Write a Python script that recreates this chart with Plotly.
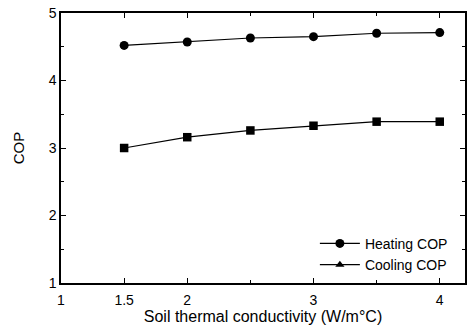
import plotly.graph_objects as go

conductivity = [1.5, 2.0, 2.5, 3.0, 3.5, 4.0]
heating_cop = [4.52, 4.57, 4.63, 4.65, 4.70, 4.71]
cooling_cop = [3.00, 3.16, 3.26, 3.33, 3.39, 3.39]
x_tick_vals = [1, 1.5, 2, 3, 4]
x_tick_text = ["1", "1.5", "2", "3", "4"]
y_tick_vals = [1, 2, 3, 4, 5]

FONT = "Liberation Sans, Arial, sans-serif"

fig = go.Figure()
fig.add_trace(go.Scatter(
    x=conductivity, y=heating_cop, mode="lines+markers", name="Heating COP",
    line=dict(color="black", width=1.2),
    marker=dict(symbol="circle", size=9, color="black"),
))
fig.add_trace(go.Scatter(
    x=conductivity, y=cooling_cop, mode="lines+markers", name="Cooling COP",
    line=dict(color="black", width=1.2),
    marker=dict(symbol="square", size=8.5, color="black"),
    showlegend=False,
))
# legend entry as printed in the original (triangle symbol)
fig.add_trace(go.Scatter(
    x=[None], y=[None], mode="lines+markers", name="Cooling COP",
    line=dict(color="black", width=1.2),
    marker=dict(symbol="triangle-up", size=8, color="black"),
))

fig.update_layout(
    width=470, height=330,
    margin=dict(l=61, r=3, t=13, b=47),
    paper_bgcolor="white", plot_bgcolor="white",
    font=dict(family=FONT, size=14, color="black"),
    showlegend=True,
    legend=dict(x=0.97, y=0.008, xanchor="right", yanchor="bottom",
                bgcolor="rgba(0,0,0,0)", font=dict(size=14, family=FONT),
                itemwidth=40, tracegroupgap=0),
)
fig.update_xaxes(
    range=[1, 4.2], tickmode="array", tickvals=x_tick_vals, ticktext=x_tick_text,
    ticks="inside", ticklen=5, tickwidth=1.2, tickcolor="black",
    showline=True, linecolor="black", linewidth=1.5, mirror="ticks",
    showgrid=False, zeroline=False, ticklabelstandoff=3,
    minor=dict(tickmode="array", tickvals=[2.5, 3.5], ticks="inside", ticklen=3, tickcolor="black"),
    title=dict(text="Soil thermal conductivity (W/m°C)", font=dict(size=16, family=FONT), standoff=4),
    tickfont=dict(size=14, family=FONT),
)
fig.update_yaxes(
    range=[1, 5], tickmode="array", tickvals=y_tick_vals,
    ticks="inside", ticklen=5, tickwidth=1.2, tickcolor="black",
    showline=True, linecolor="black", linewidth=1.5, mirror="ticks",
    showgrid=False, zeroline=False,
    minor=dict(dtick=0.5, ticks="inside", ticklen=3, tickcolor="black"),
    title=dict(text="COP", font=dict(size=15, family=FONT), standoff=20),
    tickfont=dict(size=14, family=FONT),
)

fig.write_html("out.html")
